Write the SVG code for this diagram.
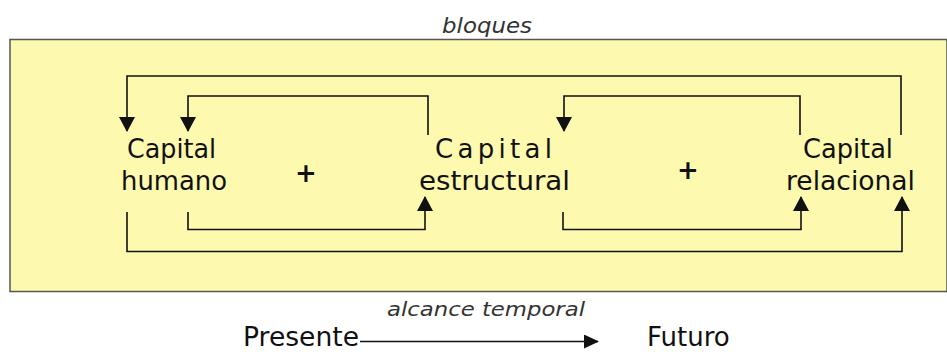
<svg xmlns="http://www.w3.org/2000/svg" width="947" height="352" viewBox="0 0 947 352">
<defs>
<style>
.lbl{font-family:"DejaVu Sans","Liberation Sans",sans-serif;font-size:26px;fill:#111}
.ital{font-family:"DejaVu Sans","Liberation Sans",sans-serif;font-style:italic;font-weight:200;fill:#333}
.plus{font-family:"DejaVu Sans","Liberation Sans",sans-serif;font-size:26px;font-weight:bold;fill:#111;text-anchor:middle}
.con{fill:none;stroke:#111;stroke-width:1.6}
</style>
<marker id="ah" markerUnits="userSpaceOnUse" markerWidth="16" markerHeight="16" refX="14" refY="8" orient="auto">
<path d="M0,0 L15,8 L0,16 z" fill="#111"/>
</marker>
<marker id="ah2" markerUnits="userSpaceOnUse" markerWidth="16" markerHeight="14" refX="14" refY="7" orient="auto">
<path d="M0,0 L15,7 L0,14 z" fill="#111"/>
</marker>
</defs>
<rect width="947" height="352" fill="#ffffff"/>
<g id="panel">
<rect x="10" y="39.5" width="937" height="252" fill="#fdf9ae" stroke="#555" stroke-width="1.5"/>
</g>
<text class="ital" x="442" y="33" font-size="22" textLength="90" lengthAdjust="spacingAndGlyphs">bloques</text>
<g id="connectors">
<path class="con" d="M901,135 V76 H127 V131" marker-end="url(#ah)"/>
<path class="con" d="M428,135 V96 H188 V131" marker-end="url(#ah)"/>
<path class="con" d="M800,135 V96 H564 V131" marker-end="url(#ah)"/>
<path class="con" d="M188,212 V229.5 H425 V197" marker-end="url(#ah)"/>
<path class="con" d="M127,212 V251.5 H902 V197" marker-end="url(#ah)"/>
<path class="con" d="M563,212 V229.5 H801 V197" marker-end="url(#ah)"/>
<path class="con" d="M360,341.5 H598" marker-end="url(#ah2)"/>
</g>
<g id="capital-humano">
<text class="lbl" x="127" y="158" textLength="89" lengthAdjust="spacingAndGlyphs">Capital</text>
<text class="lbl" x="121" y="190" textLength="106" lengthAdjust="spacingAndGlyphs">humano</text>
</g>
<g id="plus-1"><text class="plus" x="306" y="182">+</text></g>
<g id="capital-estructural">
<text class="lbl" x="435" y="158" textLength="117" lengthAdjust="spacing">Capital</text>
<text class="lbl" x="419" y="190" textLength="151" lengthAdjust="spacingAndGlyphs">estructural</text>
</g>
<g id="plus-2"><text class="plus" x="688" y="179">+</text></g>
<g id="capital-relacional">
<text class="lbl" x="803" y="158" textLength="90" lengthAdjust="spacingAndGlyphs">Capital</text>
<text class="lbl" x="786" y="190" textLength="129" lengthAdjust="spacingAndGlyphs">relacional</text>
</g>
<text class="ital" x="387" y="316" font-size="19" textLength="198" lengthAdjust="spacingAndGlyphs">alcance temporal</text>
<g id="presente"><text class="lbl" x="243" y="346" textLength="116" lengthAdjust="spacingAndGlyphs">Presente</text></g>
<g id="futuro"><text class="lbl" x="647" y="346">Futuro</text></g>
</svg>
